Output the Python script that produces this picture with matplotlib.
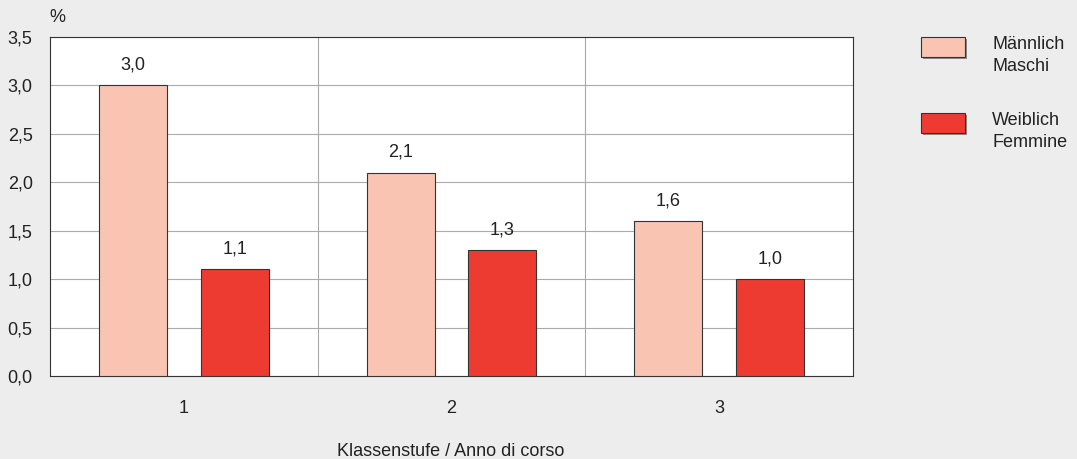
import numpy as np
import matplotlib.pyplot as plt
from matplotlib.patches import Rectangle

plt.rcParams['font.family'] = ['Liberation Sans', 'DejaVu Sans']

# Data
grades = ['1', '2', '3']
male = [3.0, 2.1, 1.6]
female = [1.1, 1.3, 1.0]
series_labels = ['Männlich\nMaschi', 'Weiblich\nFemmine']
colors = ['#F9C4B1', '#EE3B32']

W, H = 1077, 459
bg = '#EDEDED'
txt = '#222222'
fs = 13

fig = plt.figure(figsize=(W / 100, H / 100), dpi=100, facecolor=bg)
ax = fig.add_axes([50 / W, 1 - 376 / H, (853 - 50) / W, (376 - 37) / H])
ax.set_facecolor('white')

x = np.arange(1, len(grades) + 1)
w = 0.254
off = 0.19
b1 = ax.bar(x - off, male, w, color=colors[0], edgecolor='#333333', linewidth=0.8, zorder=3)
b2 = ax.bar(x + off, female, w, color=colors[1], edgecolor='#333333', linewidth=0.8, zorder=3)

for bars, vals in [(b1, male), (b2, female)]:
    for rect, v in zip(bars, vals):
        ax.text(rect.get_x() + rect.get_width() / 2, v + 0.12, f'{v:.1f}'.replace('.', ','),
                ha='center', va='bottom', fontsize=fs, color=txt)

ax.set_xlim(0.5, 3.5)
ax.set_ylim(0, 3.5)
yt = np.arange(0, 3.51, 0.5)
ax.set_yticks(yt)
ax.set_yticklabels([f'{t:.1f}'.replace('.', ',') for t in yt], fontsize=fs, color=txt)
ax.set_xticks(x)
ax.set_xticklabels(grades, fontsize=fs, color=txt)
ax.tick_params(axis='both', length=0)
ax.tick_params(axis='x', pad=17)
ax.tick_params(axis='y', pad=12.5)
ax.grid(axis='y', color='#AAAAAA', linewidth=0.8, zorder=0)
for g in [1.5, 2.5]:
    ax.axvline(g, color='#AAAAAA', linewidth=0.8, zorder=0)
for s in ax.spines.values():
    s.set_color('#333333')
    s.set_linewidth(0.8)

fig.text(57 / W, 1 - 18 / H, '%', fontsize=fs, color=txt, ha='center', va='center')
fig.text(451 / W, 1 - 451 / H, 'Klassenstufe / Anno di corso', fontsize=fs,
         color=txt, ha='center', va='center')

# legend drawn by hand to match positions
for i, (c, lab) in enumerate(zip(colors, series_labels)):
    top = 37 + i * 76
    fig.add_artist(Rectangle(((921 + 2) / W, 1 - (top + 22) / H), 44 / W, 20 / H,
                             transform=fig.transFigure, facecolor='#8A8A8A', edgecolor='none'))
    fig.add_artist(Rectangle((921 / W, 1 - (top + 20) / H), 44 / W, 20 / H,
                             transform=fig.transFigure, facecolor=c, edgecolor='#333333', linewidth=0.8))
    fig.text(992 / W, 1 - (top - 1) / H, lab, fontsize=fs, color=txt, ha='left', va='top',
             linespacing=1.42)

fig.savefig('out.png', dpi=100, facecolor=bg)
